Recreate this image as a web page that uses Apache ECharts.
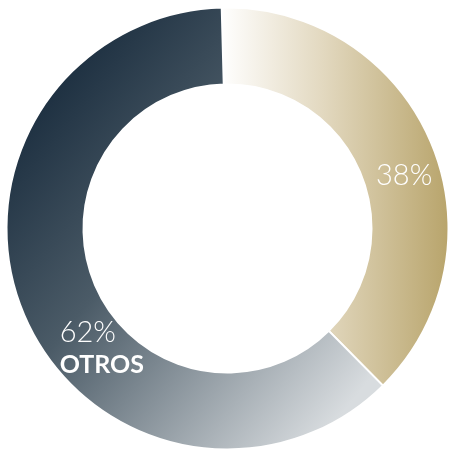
<!DOCTYPE html>
<html>
<head>
<meta charset="utf-8">
<script src="https://cdn.jsdelivr.net/npm/echarts@6/dist/echarts.min.js"></script>
<style>
  html, body { margin: 0; padding: 0; background: #fff; }
  #chart { width: 450px; height: 451px; }
</style>
</head>
<body>
<div id="chart"></div>
<script>
// datos del gráfico
var categories = ['', 'OTROS'];
var values = [38, 62];
var percentLabels = ['38%', '62%'];

var chart = echarts.init(document.getElementById('chart'));

var goldGradient = new echarts.graphic.LinearGradient(0, 0, 1, 0, [
  { offset: 0, color: '#ffffff' },
  { offset: 0.45, color: '#e2d8bf' },
  { offset: 1, color: '#b8a46b' }
]);
var darkGradient = new echarts.graphic.LinearGradient(0.05, 0.15, 1, 0.8, [
  { offset: 0, color: '#15283a' },
  { offset: 0.42, color: '#4b5b67' },
  { offset: 1, color: '#d8dcdf' }
]);

chart.setOption({
  animation: false,
  series: [
    {
      type: 'pie',
      center: [227.5, 228.5],
      radius: [144, 221],
      startAngle: 91.5,
      clockwise: true,
      itemStyle: { borderColor: '#fff', borderWidth: 2 },
      label: {
        show: true,
        position: 'inside',
        color: '#fff',
        fontFamily: 'Lato',
        fontWeight: 300,
        fontSize: 29
      },
      labelLine: { show: false },
      emphasis: { disabled: true },
      data: [
        {
          name: categories[0],
          value: values[0],
          itemStyle: { color: goldGradient },
          label: {
            formatter: percentLabels[0],
            offset: [6, 20]
          }
        },
        {
          name: categories[1],
          value: values[1],
          itemStyle: { color: darkGradient },
          label: {
            formatter: '{p|' + percentLabels[1] + '}\n{n|' + categories[1] + '}',
            offset: [45, 46],
            rich: {
              p: { color: '#fff', fontFamily: 'Lato', fontWeight: 300, fontSize: 29, lineHeight: 36, align: 'left' },
              n: { color: '#fff', fontFamily: 'Lato', fontWeight: 'bold', fontSize: 25, lineHeight: 30, align: 'left' }
            }
          }
        }
      ]
    }
  ]
});
</script>
</body>
</html>
